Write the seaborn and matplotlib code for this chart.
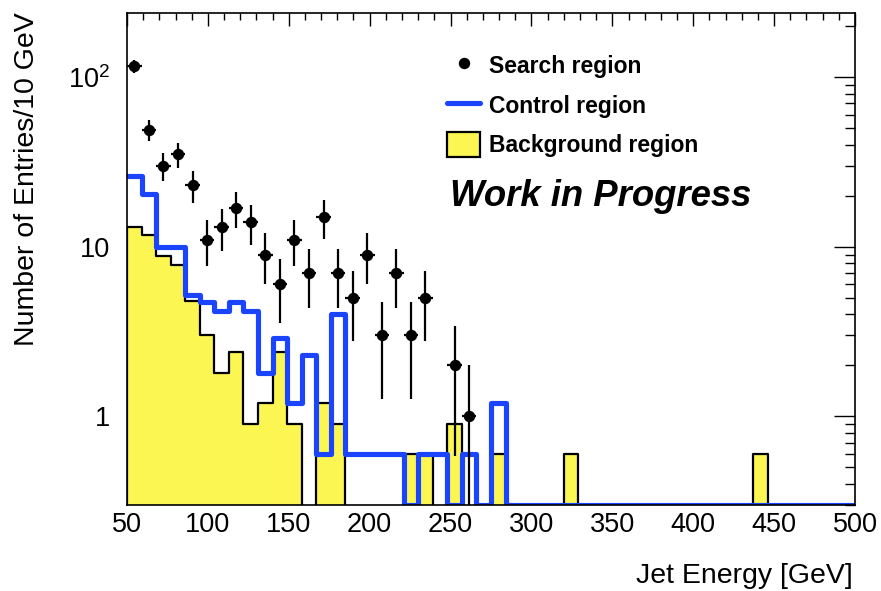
import numpy as np
import pandas as pd
import matplotlib
matplotlib.use("Agg")
import matplotlib.pyplot as plt
from matplotlib.ticker import FixedLocator, FixedFormatter, LogLocator, NullFormatter, MultipleLocator
from matplotlib.lines import Line2D
from matplotlib.patches import Patch
import seaborn as sns

# ---------------- data ----------------
bin_low = 50
bin_high = 500
bin_width = 9
# Background region (yellow), 50 bins
background = [13.1, 11.8, 8.8, 7.8, 4.8, 3.0, 1.8, 2.4, 0.9, 1.2,
              2.4, 0.9, 0.0, 1.2, 0.9, 0.0, 0.0, 0.0, 0.0, 0.6,
              0.6, 0.0, 0.9, 0.0, 0.0, 0.6, 0.0, 0.0, 0.0, 0.0,
              0.6, 0.0, 0.0, 0.0, 0.0, 0.0, 0.0, 0.0, 0.0, 0.0,
              0.0, 0.0, 0.0, 0.6, 0.0, 0.0, 0.0, 0.0, 0.0, 0.0]
# Control region (blue), 50 bins
control = [26.0, 20.5, 10.0, 10.0, 5.2, 4.7, 4.2, 4.7, 4.2, 1.8,
           2.9, 1.2, 2.3, 0.6, 4.0, 0.6, 0.6, 0.6, 0.6, 0.0,
           0.6, 0.6, 0.0, 0.6, 0.0, 1.2, 0.0, 0.0, 0.0, 0.0,
           0.0, 0.0, 0.0, 0.0, 0.0, 0.0, 0.0, 0.0, 0.0, 0.0,
           0.0, 0.0, 0.0, 0.0, 0.0, 0.0, 0.0, 0.0, 0.0, 0.0]
# Search region (data points), first 24 bins (rest empty)
search = [116, 49, 30, 35, 23, 11, 13, 17, 14, 9, 6, 11, 7, 15, 7, 5,
          9, 3, 7, 3, 5, 0, 2, 1]

x_ticks = [50, 100, 150, 200, 250, 300, 350, 400, 450, 500]
y_ticks = [1, 10, 100]
y_ticklabels = ["1", "10", r"$10^{2}$"]

legend_labels = ["Search region", "Control region", "Background region"]
xlabel = "Jet Energy [GeV]"
ylabel = "Number of Entries/10 GeV"
banner = "Work in Progress"

y_min, y_max = 0.3, 240

# ---------------- style ----------------
sns.set_style("white")
plt.rcParams["font.family"] = ["Liberation Sans", "DejaVu Sans"]
plt.rcParams["mathtext.fontset"] = "custom"
plt.rcParams["mathtext.rm"] = "Liberation Sans"
plt.rcParams["mathtext.it"] = "Liberation Sans:italic"
plt.rcParams["mathtext.bf"] = "Liberation Sans:bold"
for k in ["text.color", "axes.labelcolor", "xtick.color", "ytick.color",
          "axes.edgecolor"]:
    plt.rcParams[k] = "black"

YELLOW = "#fbf652"
BLUE = "#1a44ff"

edges = np.arange(bin_low, bin_high + 1, bin_width)
centers = edges[:-1] + bin_width / 2.0

bg = np.array(background)
ctrl = np.array(control)
df = pd.DataFrame({
    "energy": centers,
    "background": bg,
    "control_drawn": np.where(ctrl > 0, ctrl, y_min),
})

W, H = 881, 591
fig = plt.figure(figsize=(W / 100, H / 100), dpi=100)
ax = fig.add_axes([127 / W, 1 - 505 / H, (855 - 127) / W, (505 - 12.7) / H])

sns.histplot(data=df, x="energy", weights="background", bins=list(edges),
             element="step", fill=True, color=YELLOW, edgecolor="black",
             linewidth=1.6, alpha=1, ax=ax, zorder=1)
sns.histplot(data=df, x="energy", weights="control_drawn", bins=list(edges),
             element="step", fill=False, color=BLUE, linewidth=3.7,
             ax=ax, zorder=2)

s = np.array(search, dtype=float)
sx = centers[:len(s)]
m = s > 0
ax.errorbar(sx[m], s[m], yerr=np.sqrt(s[m]), xerr=bin_width / 2, fmt="o",
            color="black", ms=7.2, elinewidth=1.6, capsize=0, zorder=3)

ax.set_yscale("log")
ax.set_xlim(bin_low, bin_high)
ax.set_ylim(y_min, y_max)

ax.xaxis.set_major_locator(FixedLocator(x_ticks))
ax.xaxis.set_minor_locator(MultipleLocator(10))
ax.yaxis.set_major_locator(FixedLocator(y_ticks))
ax.yaxis.set_major_formatter(FixedFormatter(y_ticklabels))
ax.yaxis.set_minor_locator(LogLocator(base=10, subs=np.arange(2, 10)))
ax.yaxis.set_minor_formatter(NullFormatter())

ax.tick_params(axis="both", which="both", direction="in", top=True, right=True,
               color="black", labelcolor="black", width=1.0)
ax.tick_params(axis="x", which="major", length=9.5, labelsize=19.5, pad=5)
ax.tick_params(axis="x", which="minor", length=4.7)
ax.tick_params(axis="y", which="major", length=15, labelsize=19.5, pad=12)
ax.tick_params(axis="y", which="minor", length=7.5)
for sp in ax.spines.values():
    sp.set_visible(True)
    sp.set_color("black")
    sp.set_linewidth(1.2)
    sp.set_zorder(5)
ax.set_xlabel("")
ax.set_ylabel("")

fig.text(853 / W, 1 - 583 / H, xlabel, ha="right", va="baseline",
         fontsize=20.5, color="black")
fig.text(27 / W, 1 - 12.7 / H, ylabel, ha="center", va="top", rotation=90,
         fontsize=20.5, color="black")

handles = [
    Line2D([], [], marker="o", color="black", ls="none", ms=7.2),
    Line2D([], [], color=BLUE, lw=3.7),
    Patch(facecolor=YELLOW, edgecolor="black", linewidth=1.6),
]
leg = ax.legend(handles, legend_labels, loc="upper left",
                bbox_to_anchor=((447 - 127) / 728, (505 - 53) / 492.3),
                frameon=False, prop={"weight": "bold", "size": 16.5},
                handlelength=1.45, handleheight=1.3, handletextpad=0.4,
                labelspacing=0.63, borderpad=0, borderaxespad=0)
for t in leg.get_texts():
    t.set_color("black")

fig.text(450 / W, 1 - 206.5 / H, banner, ha="left", va="baseline",
         fontsize=26.3, fontweight="bold", fontstyle="italic", color="black")

fig.savefig("out.png", dpi=100)
